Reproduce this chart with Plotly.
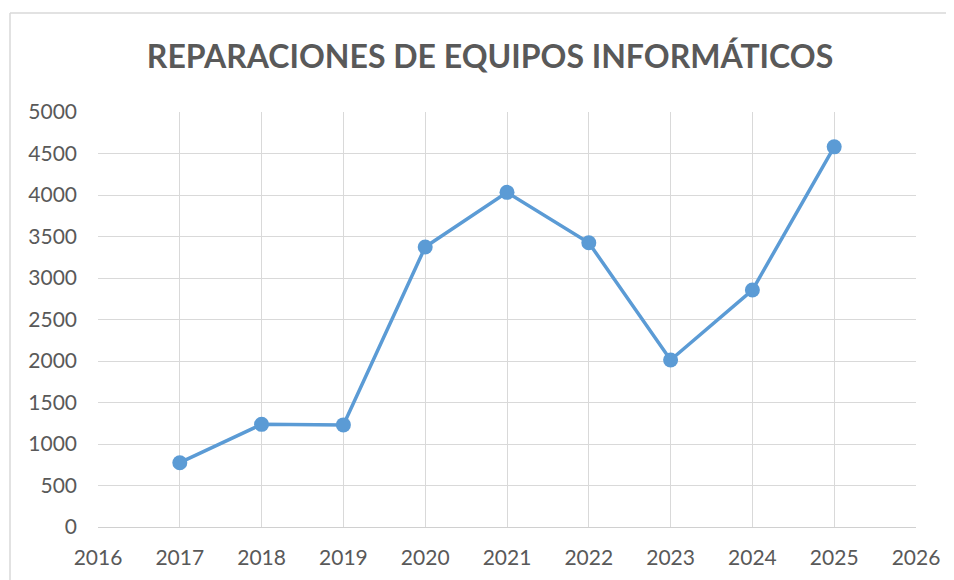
import plotly.graph_objects as go

years = [2017, 2018, 2019, 2020, 2021, 2022, 2023, 2024, 2025]
repairs = [775, 1237, 1230, 3373, 4032, 3425, 2012, 2855, 4580]
x_ticks = list(range(2016, 2027))
y_ticks = list(range(0, 5001, 500))

W, H = 954, 580
off = 8  # default page body margin
ml, mt = 98 - off, 112 - off
pw, ph = 818, 415
mr = W - ml - pw
mb = H - mt - ph

fig = go.Figure()
fig.add_trace(go.Scatter(
    x=years, y=repairs, mode="lines+markers",
    line=dict(color="#5B9BD5", width=3.5),
    marker=dict(color="#5B9BD5", size=15),
    showlegend=False, hoverinfo="x+y",
))

font_family = "Lato, 'Open Sans', sans-serif"
fig.update_layout(
    width=W, height=H,
    margin=dict(l=ml, r=mr, t=mt, b=mb),
    paper_bgcolor="white", plot_bgcolor="white",
    title=dict(text="<b>REPARACIONES DE EQUIPOS INFORMÁTICOS</b>",
               x=(490 - off) / W, xanchor="center", y=1 - (57 - off) / H, yanchor="middle",
               font=dict(family=font_family, size=32, color="#595959")),
    xaxis=dict(range=[2016, 2026], tickvals=x_ticks, ticktext=[str(v) for v in x_ticks],
               showgrid=True, gridcolor="#d9d9d9", gridwidth=1.3,
               showline=True, linecolor="#d0d0d0", linewidth=1.3,
               zeroline=False, ticks="", ticklabelstandoff=12,
               tickfont=dict(family=font_family, size=21, color="#595959")),
    yaxis=dict(range=[0, 5000], tickvals=y_ticks, ticktext=[str(v) for v in y_ticks],
               showgrid=True, gridcolor="#d9d9d9", gridwidth=1.3,
               showline=False, zeroline=False, ticks="", ticklabelstandoff=20,
               tickfont=dict(family=font_family, size=21, color="#595959")),
)

# outer chart border (left and top edges visible)
x_left = (10 - off - ml) / pw
y_top = (mt + ph - (13 - off)) / ph
fig.add_shape(type="line", xref="paper", yref="paper",
              x0=x_left, x1=x_left, y0=y_top, y1=-0.3,
              line=dict(color="#d9d9d9", width=1.5))
fig.add_shape(type="line", xref="paper", yref="paper",
              x0=x_left, x1=1.2, y0=y_top, y1=y_top,
              line=dict(color="#d9d9d9", width=1.5))

fig.write_html("out.html")
